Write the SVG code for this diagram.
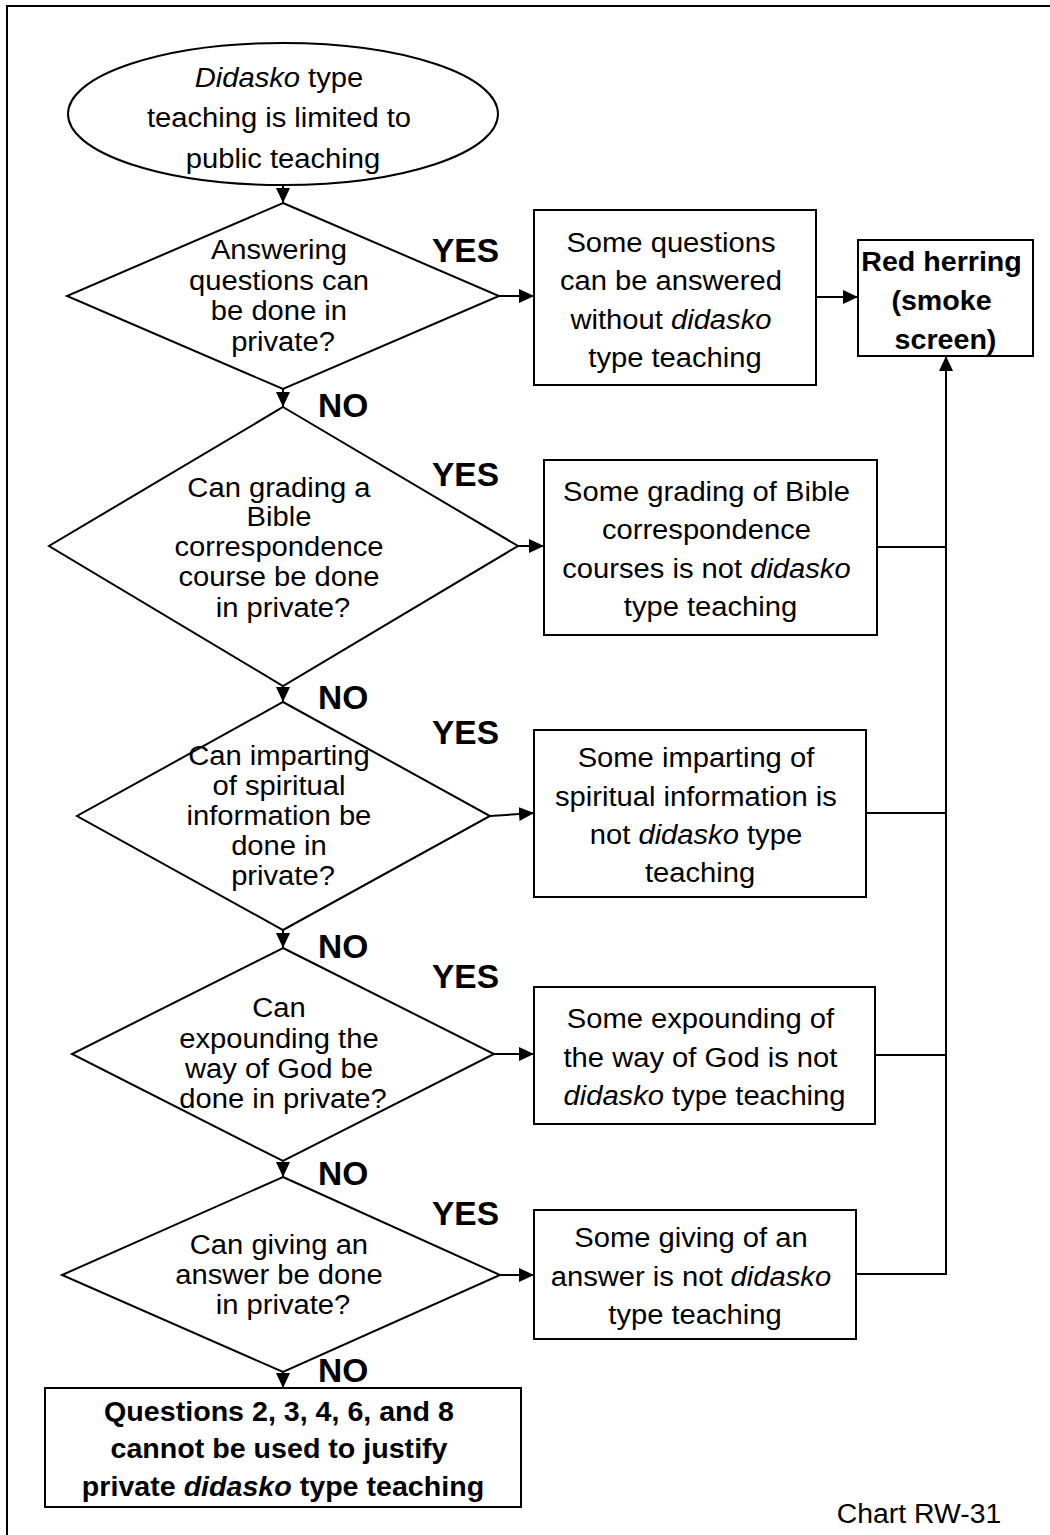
<svg xmlns="http://www.w3.org/2000/svg" width="1050" height="1535" viewBox="0 0 1050 1535">
<style>
  .shape { fill: #fff; stroke: #000; stroke-width: 2; }
  .line { fill: none; stroke: #000; stroke-width: 2; }
  .arr { marker-end: url(#ah); }
  .t { font-family: "Liberation Sans", Arial, sans-serif; font-size: 27px; text-anchor: middle; fill: #000; }
  .b { font-weight: bold; }
  .i { font-style: italic; }
  .lbl { font-family: "Liberation Sans", Arial, sans-serif; font-size: 33.5px; font-weight: bold; fill: #000; }
</style>
<defs>
  <marker id="ah" markerWidth="16" markerHeight="14" refX="15" refY="7" orient="auto" markerUnits="userSpaceOnUse">
    <path d="M0,0 L15,7 L0,14 z" fill="#000"/>
  </marker>
</defs>
<rect width="1050" height="1535" fill="#fff"/>
<path class="line" d="M7,1535 V6 H1050"/>

<g id="connectors">
  <line class="line arr" x1="283" y1="185" x2="283" y2="203"/>
  <line class="line arr" x1="499" y1="296" x2="534" y2="296"/>
  <line class="line arr" x1="816" y1="297" x2="858" y2="297"/>
  <line class="line arr" x1="283" y1="389" x2="283" y2="407"/>
  <line class="line arr" x1="518" y1="546" x2="544" y2="546"/>
  <line class="line" x1="877" y1="547" x2="946" y2="547"/>
  <line class="line arr" x1="283" y1="686" x2="283" y2="702"/>
  <line class="line arr" x1="490" y1="816" x2="534" y2="813"/>
  <line class="line" x1="866" y1="813" x2="946" y2="813"/>
  <line class="line arr" x1="283" y1="930" x2="283" y2="948"/>
  <line class="line arr" x1="494" y1="1054" x2="534" y2="1054"/>
  <line class="line" x1="875" y1="1055" x2="946" y2="1055"/>
  <line class="line arr" x1="283" y1="1161" x2="283" y2="1177"/>
  <line class="line arr" x1="500" y1="1275" x2="534" y2="1275"/>
  <polyline class="line arr" points="856,1274 946,1274 946,356"/>
  <line class="line arr" x1="283" y1="1372" x2="283" y2="1388"/>
</g>

<g id="start">
  <ellipse class="shape" cx="283" cy="114" rx="215" ry="71"/>
  <text class="t" transform="translate(283 0) scale(1.08 1)">
    <tspan x="0" y="87"><tspan class="i">Didasko</tspan> type</tspan>
    <tspan x="0" y="127.5">teaching is limited to</tspan>
    <tspan x="0" y="168">public teaching</tspan>
  </text>
</g>

<g id="q1">
  <polygon class="shape" points="283,203 499,296 283,389 67,296"/>
  <text class="t" transform="translate(283 0) scale(1.08 1)">
    <tspan x="0" y="259">Answering</tspan>
    <tspan x="0" y="290">questions can</tspan>
    <tspan x="0" y="320">be done in</tspan>
    <tspan x="0" y="351">private?</tspan>
  </text>
</g>

<g id="r1">
  <rect class="shape" x="534" y="210" width="282" height="175"/>
  <text class="t" transform="translate(675 0) scale(1.08 1)">
    <tspan x="0" y="252">Some questions</tspan>
    <tspan x="0" y="290">can be answered</tspan>
    <tspan x="0" y="329">without <tspan class="i">didasko</tspan></tspan>
    <tspan x="0" y="367">type teaching</tspan>
  </text>
</g>

<g id="redherring">
  <rect class="shape" x="858" y="240" width="175" height="116"/>
  <text class="t b" transform="translate(945.5 0) scale(1.06 1)">
    <tspan x="0" y="271">Red herring</tspan>
    <tspan x="0" y="310">(smoke</tspan>
    <tspan x="0" y="349">screen)</tspan>
  </text>
</g>

<g id="q2">
  <polygon class="shape" points="283,407 518,546 283,686 49,546"/>
  <text class="t" transform="translate(283 0) scale(1.08 1)">
    <tspan x="0" y="497">Can grading a</tspan>
    <tspan x="0" y="526">Bible</tspan>
    <tspan x="0" y="556">correspondence</tspan>
    <tspan x="0" y="586">course be done</tspan>
    <tspan x="0" y="617">in private?</tspan>
  </text>
</g>

<g id="r2">
  <rect class="shape" x="544" y="460" width="333" height="175"/>
  <text class="t" transform="translate(710.5 0) scale(1.08 1)">
    <tspan x="0" y="501">Some grading of Bible</tspan>
    <tspan x="0" y="539">correspondence</tspan>
    <tspan x="0" y="578">courses is not <tspan class="i">didasko</tspan></tspan>
    <tspan x="0" y="616">type teaching</tspan>
  </text>
</g>

<g id="q3">
  <polygon class="shape" points="283,702 490,816 283,930 77,816"/>
  <text class="t" transform="translate(283 0) scale(1.08 1)">
    <tspan x="0" y="765">Can imparting</tspan>
    <tspan x="0" y="795">of spiritual</tspan>
    <tspan x="0" y="825">information be</tspan>
    <tspan x="0" y="855">done in</tspan>
    <tspan x="0" y="885">private?</tspan>
  </text>
</g>

<g id="r3">
  <rect class="shape" x="534" y="730" width="332" height="167"/>
  <text class="t" transform="translate(700 0) scale(1.08 1)">
    <tspan x="0" y="767">Some imparting of</tspan>
    <tspan x="0" y="806">spiritual information is</tspan>
    <tspan x="0" y="844">not <tspan class="i">didasko</tspan> type</tspan>
    <tspan x="0" y="882">teaching</tspan>
  </text>
</g>

<g id="q4">
  <polygon class="shape" points="283,948 494,1054 283,1161 72,1054"/>
  <text class="t" transform="translate(283 0) scale(1.08 1)">
    <tspan x="0" y="1017">Can</tspan>
    <tspan x="0" y="1048">expounding the</tspan>
    <tspan x="0" y="1078">way of God be</tspan>
    <tspan x="0" y="1108">done in private?</tspan>
  </text>
</g>

<g id="r4">
  <rect class="shape" x="534" y="987" width="341" height="137"/>
  <text class="t" transform="translate(704.5 0) scale(1.08 1)">
    <tspan x="0" y="1028">Some expounding of</tspan>
    <tspan x="0" y="1067">the way of God is not</tspan>
    <tspan x="0" y="1105"><tspan class="i">didasko</tspan> type teaching</tspan>
  </text>
</g>

<g id="q5">
  <polygon class="shape" points="283,1177 500,1275 283,1372 62,1275"/>
  <text class="t" transform="translate(283 0) scale(1.08 1)">
    <tspan x="0" y="1254">Can giving an</tspan>
    <tspan x="0" y="1284">answer be done</tspan>
    <tspan x="0" y="1314">in private?</tspan>
  </text>
</g>

<g id="r5">
  <rect class="shape" x="534" y="1210" width="322" height="129"/>
  <text class="t" transform="translate(695 0) scale(1.08 1)">
    <tspan x="0" y="1247">Some giving of an</tspan>
    <tspan x="0" y="1286">answer is not <tspan class="i">didasko</tspan></tspan>
    <tspan x="0" y="1324">type teaching</tspan>
  </text>
</g>

<g id="conclusion">
  <rect class="shape" x="45" y="1388" width="476" height="119"/>
  <text class="t b" transform="translate(283 0) scale(1.06 1)">
    <tspan x="0" y="1421">Questions 2, 3, 4, 6, and 8</tspan>
    <tspan x="0" y="1458">cannot be used to justify</tspan>
    <tspan x="0" y="1496">private <tspan class="i">didasko</tspan> type teaching</tspan>
  </text>
</g>

<g id="labels">
  <text class="lbl" x="432" y="262">YES</text>
  <text class="lbl" x="318" y="417">NO</text>
  <text class="lbl" x="432" y="486">YES</text>
  <text class="lbl" x="318" y="709">NO</text>
  <text class="lbl" x="432" y="744">YES</text>
  <text class="lbl" x="318" y="958">NO</text>
  <text class="lbl" x="432" y="988">YES</text>
  <text class="lbl" x="318" y="1185">NO</text>
  <text class="lbl" x="432" y="1225">YES</text>
  <text class="lbl" x="318" y="1382">NO</text>
</g>

<g id="chartlabel">
  <text class="t" transform="translate(919 0) scale(1.05 1)"><tspan x="0" y="1523">Chart RW-31</tspan></text>
</g>
</svg>
